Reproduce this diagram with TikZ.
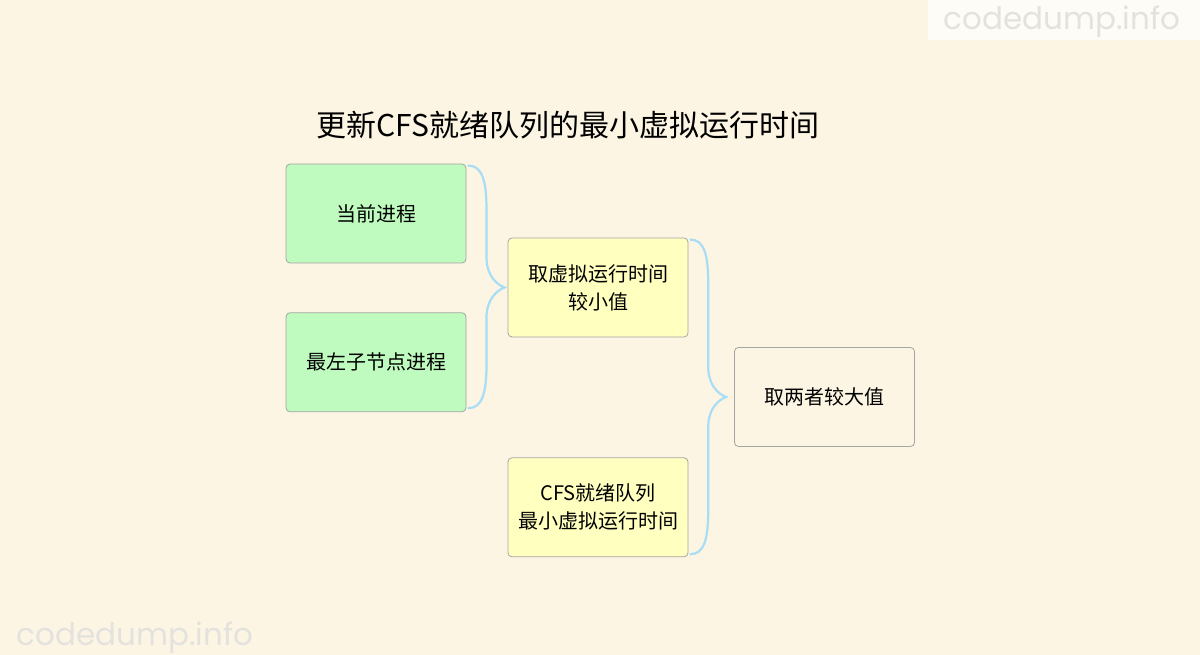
\documentclass[tikz,border=0pt]{standalone}
\usepackage{fontspec}
\usepackage{xcolor}
\usepackage{tikz}
\usetikzlibrary{calc,positioning}
\newfontfamily\cjk{Noto Sans CJK SC}
\newfontfamily\markfont{Poppins}
\definecolor{MMBack}{HTML}{FCF5E3}
\definecolor{MMGreen}{HTML}{BFFBBF}
\definecolor{MMYellow}{HTML}{FFFFC0}
\definecolor{MMBorder}{HTML}{A5A5A5}
\definecolor{MMBrace}{HTML}{A9DDF5}
\definecolor{MMMark}{HTML}{E4E2DE}
\definecolor{MMMarkBack}{HTML}{FEFCF7}

\tikzset{
  topic/.style={draw=MMBorder, line width=0.8pt, rounded corners=4pt,
    minimum width=180pt, minimum height=99pt, align=center, text=black,
    font=\cjk\fontsize{20}{28}\selectfont},
  brace/.style={draw=MMBrace, line width=2.2pt, line cap=round},
  watermark/.style={text=MMMark, font=\markfont\fontsize{31}{31}\selectfont},
}

% #1 top end, #2 bottom end, #3 tip
\newcommand{\mmbrace}[3]{%
  \draw[brace] let \p1=(#1), \p2=(#2), \p3=(#3), \p4=($(#1)!0.5!(#3)$) in
    (\p1) .. controls (\x1+14pt,\y1) and (\x4,\y1-16pt) .. (\x4,\y1-44pt)
    -- (\x4,\y3+30pt) .. controls (\x4,\y3+12pt) and (\x3-8pt,\y3+3pt) .. (\p3)
    .. controls (\x3-8pt,\y3-3pt) and (\x4,\y3-12pt) .. (\x4,\y3-30pt)
    -- (\x4,\y2+44pt) .. controls (\x4,\y2+16pt) and (\x2+14pt,\y2) .. (\p2);}

\begin{document}
\begin{tikzpicture}[x=1pt, y=1pt]
\useasboundingbox (0,0) rectangle (1200,655);
\fill[MMBack] (0,0) rectangle (1200,655);
\fill[MMMarkBack] (928,615) rectangle (1200,655);
\node[watermark] (mark1) at (1062,633) {codedump.info};
\node[watermark] (mark2) at (135,17) {codedump.info};

\node[font=\cjk\fontsize{30}{36}\selectfont] (title) at (568,530)
  {更新CFS就绪队列的最小虚拟运行时间};

\node[topic, fill=MMGreen] (cur) at (376,441.5) {当前进程};
\node[topic, fill=MMGreen, below=49pt of cur] (leftmost) {最左子节点进程};
\node[topic, fill=MMYellow] (minv) at (598,367.5) {取虚拟运行时间\\较小值};
\node[topic, fill=MMYellow, below=120pt of minv] (cfsmin) {CFS就绪队列\\最小虚拟运行时间};
\node[topic, fill=MMBack] (maxv) at (824.5,258) {取两者较大值};

\coordinate (b1s) at ($(cur.north east)+(2,-2)$);
\coordinate (b1e) at ($(leftmost.south east)+(2,4)$);
\coordinate (b1t) at ($(minv.west)+(-3,0)$);
\coordinate (b2s) at ($(minv.north east)+(2,-2)$);
\coordinate (b2e) at ($(cfsmin.south east)+(2,3)$);
\coordinate (b2t) at ($(maxv.west)+(-8,0)$);
\mmbrace{b1s}{b1e}{b1t}
\mmbrace{b2s}{b2e}{b2t}
\end{tikzpicture}
\end{document}
